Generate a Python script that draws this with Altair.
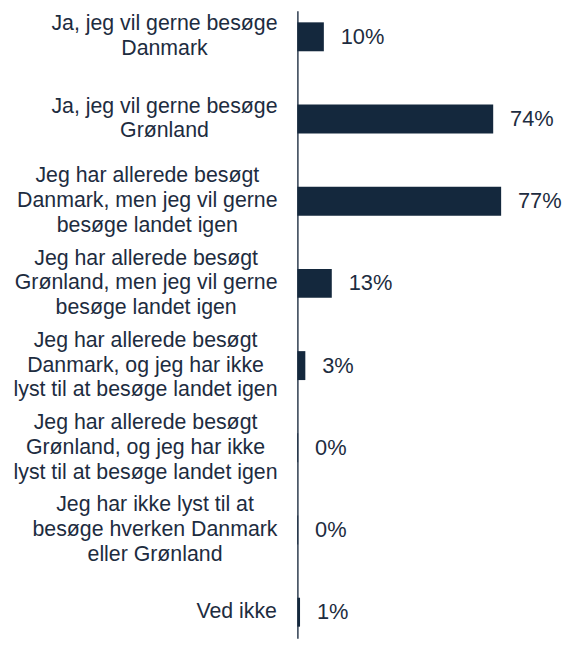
import altair as alt
import pandas as pd

categories = [
    "Ja, jeg vil gerne besøge\nDanmark",
    "Ja, jeg vil gerne besøge\nGrønland",
    "Jeg har allerede besøgt\nDanmark, men jeg vil gerne\nbesøge landet igen",
    "Jeg har allerede besøgt\nGrønland, men jeg vil gerne\nbesøge landet igen",
    "Jeg har allerede besøgt\nDanmark, og jeg har ikke\nlyst til at besøge landet igen",
    "Jeg har allerede besøgt\nGrønland, og jeg har ikke\nlyst til at besøge landet igen",
    "Jeg har ikke lyst til at\nbesøge hverken Danmark\neller Grønland",
    "Ved ikke",
]
values = [10, 74, 77, 13, 3, 0.3, 0.3, 1]
value_labels = ["10%", "74%", "77%", "13%", "3%", "0%", "0%", "1%"]

BAR = "#14283d"
TXT = "#1d2c40"
AXIS = "#3a485a"
FONT = "Liberation Sans"
CAT_SIZE = 21.5
VAL_SIZE = 22
LINE_H = 25

# Arial / Liberation Sans advance widths (per 1000 em) for estimating label block widths
WIDTHS = {
    "a": 556, "b": 556, "d": 556, "e": 556, "g": 556, "h": 556, "i": 222, "j": 222,
    "k": 500, "l": 222, "m": 833, "n": 556, "o": 556, "r": 333, "s": 500, "t": 278,
    "v": 500, "y": 500, "ø": 611, "D": 722, "G": 778, "J": 500, "V": 667, ",": 278, " ": 278,
}


def text_width(s):
    return sum(WIDTHS.get(c, 556) for c in s) / 1000 * CAT_SIZE


GAP = 20
rows = []
for c, v, lab in zip(categories, values, value_labels):
    lines = c.split("\n")
    block = max(text_width(line) for line in lines)
    rows.append({
        "cat": c, "value": v, "label": lab,
        "lx": -GAP - block / 2,
        "nlines": len(lines),
    })
df = pd.DataFrame(rows)

yaxis = alt.Axis(labels=False, ticks=False, title=None, domainColor=AXIS, domainWidth=1.6, grid=False)
yscale = alt.Scale(paddingInner=0.648, paddingOuter=0.14)
y = alt.Y("cat:N", sort=categories, axis=yaxis, scale=yscale)
x = alt.X("value:Q", scale=alt.Scale(domain=[0, 100]), axis=None)

bars = alt.Chart(df).mark_bar(color=BAR).encode(x=x, y=y)
vals = alt.Chart(df).mark_text(
    align="left", baseline="middle", dx=17, font=FONT, fontSize=VAL_SIZE, color=TXT
).encode(x=x, y=y, text="label:N")

cat_layers = []
for n in sorted(set(df["nlines"])):
    cat_layers.append(
        alt.Chart(df).transform_filter(alt.datum.nlines == n).mark_text(
            align="center", baseline="middle", lineBreak="\n", lineHeight=LINE_H,
            font=FONT, fontSize=CAT_SIZE, color=TXT, dy=-(n - 1) * LINE_H / 2
        ).encode(
            x=alt.X("lx:Q", scale=None, axis=None),
            y=y,
            text="cat:N",
        )
    )

chart = (
    alt.layer(bars, vals, *cat_layers)
    .resolve_scale(x="independent")
    .properties(
        width=267,
        height=633,
        autosize=alt.AutoSizeParams(type="none"),
        padding={"left": 292, "top": 0, "right": 0, "bottom": 0},
    )
    .configure_view(stroke=None)
)

chart.save("out.html", embed_options={"renderer": "svg", "actions": False})
